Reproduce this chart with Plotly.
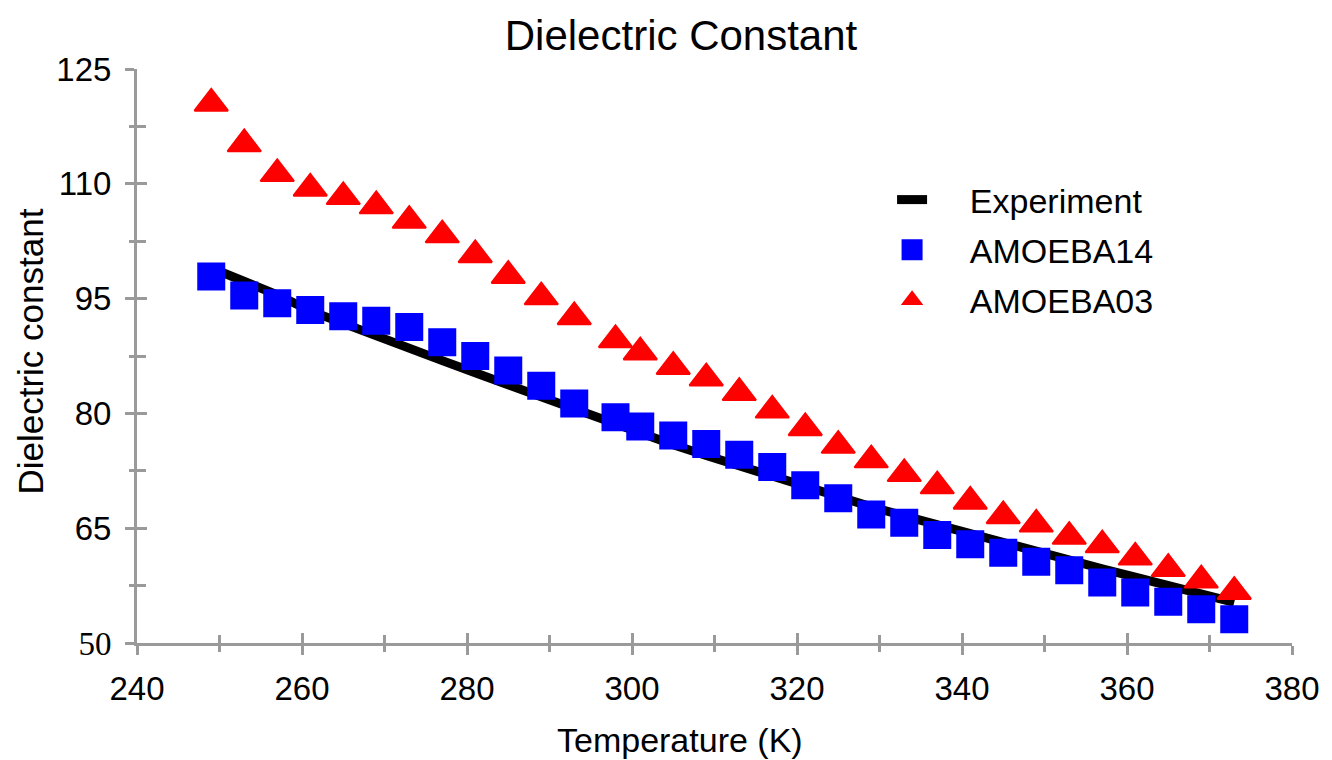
import plotly.graph_objects as go

temperature = [249, 253, 257, 261, 265, 269, 273, 277, 281, 285, 289, 293, 298, 301, 305, 309,
               313, 317, 321, 325, 329, 333, 337, 341, 345, 349, 353, 357, 361, 365, 369, 373]

experiment = [99.0, 97.3, 95.5, 93.4, 91.7, 90.2, 88.5, 86.9, 85.3, 83.7, 82.1, 80.5, 78.5, 77.3, 75.9, 74.5,
              73.1, 71.7, 70.4, 69.1, 67.8, 66.6, 65.4, 64.3, 63.2, 62.0, 60.8, 59.7, 58.6, 57.5, 56.4, 55.3]

amoeba14 = [97.9, 95.4, 94.4, 93.5, 92.7, 92.1, 91.3, 89.3, 87.5, 85.6, 83.6, 81.3, 79.5, 78.3, 77.1, 76.0,
            74.6, 73.0, 70.6, 68.9, 66.8, 65.7, 64.1, 62.9, 61.8, 60.6, 59.5, 57.9, 56.6, 55.4, 54.4, 53.1]

amoeba03 = [120.5, 115.2, 111.3, 109.4, 108.3, 107.1, 105.2, 103.3, 100.7, 98.0, 95.2, 92.6, 89.6, 88.0, 86.1, 84.6,
            82.7, 80.4, 78.1, 75.8, 73.9, 72.1, 70.5, 68.5, 66.6, 65.5, 63.9, 62.8, 61.2, 59.7, 58.2, 56.7]

x_ticks = [240, 260, 280, 300, 320, 340, 360, 380]
y_ticks = [50, 65, 80, 95, 110, 125]
y_ticktext = ["<span style='font-family:Liberation Serif'>50</span>", "65", "80", "95", "110", "125"]

FONT = "Liberation Sans, Arial, Helvetica, sans-serif"
AXIS_COLOR = "#9a9a9a"
BLUE = "#0000ff"
RED = "#ff0000"
NB = "\u00a0"

fig = go.Figure()

fig.add_trace(go.Scatter(
    x=temperature, y=experiment, mode="lines", name=NB * 4 + "Experiment",
    line=dict(color="black", width=9), legendgroup="a"))
fig.add_trace(go.Scatter(
    x=temperature, y=amoeba14, mode="markers", name=NB * 4 + "AMOEBA14",
    marker=dict(symbol="square", size=23, color=BLUE, line=dict(color=BLUE, width=5)),
    legendgroup="b"))
fig.add_trace(go.Scatter(
    x=temperature, y=amoeba03, mode="markers", name=NB * 4 + "AMOEBA03",
    marker=dict(symbol="triangle-up", size=29, color=RED, line=dict(color=RED, width=2)),
    legendgroup="c"))
# empty trace to attach overlay axes (inner half of crossing ticks)
fig.add_trace(go.Scatter(x=[], y=[], xaxis="x2", yaxis="y2", showlegend=False, hoverinfo="skip"))

common_tick = dict(tickcolor=AXIS_COLOR, tickwidth=2.5)

fig.update_layout(
    width=1332, height=760,
    paper_bgcolor="white", plot_bgcolor="white",
    margin=dict(l=137, r=34, t=69, b=117),
    font=dict(family=FONT, color="black"),
    title=dict(text="Dielectric Constant", font=dict(size=42, family=FONT, color="black"),
               x=681 / 1332, xref="container", xanchor="center",
               y=1 - 35 / 760, yref="container", yanchor="middle"),
    xaxis=dict(range=[240, 380], tickvals=x_ticks, ticks="outside", ticklen=9, ticklabelstandoff=5,
               showline=True, linecolor=AXIS_COLOR, linewidth=3,
               showgrid=False, zeroline=False,
               tickfont=dict(size=33, family=FONT, color="black"),
               minor=dict(dtick=10, ticks="outside", ticklen=6, tickcolor=AXIS_COLOR, tickwidth=2.5),
               **common_tick),
    yaxis=dict(range=[50, 125], tickvals=y_ticks, ticktext=y_ticktext, ticks="outside", ticklen=9,
               ticklabelstandoff=7,
               showline=True, linecolor=AXIS_COLOR, linewidth=3,
               showgrid=False, zeroline=False,
               tickfont=dict(size=33, family=FONT, color="black"),
               minor=dict(tick0=57.5, dtick=15, ticks="outside", ticklen=5, tickcolor=AXIS_COLOR, tickwidth=2.5),
               **common_tick),
    xaxis2=dict(range=[240, 380], overlaying="x", anchor="y", side="bottom",
                tickvals=x_ticks, ticks="inside", ticklen=10, showticklabels=False,
                showline=False, showgrid=False, zeroline=False,
                minor=dict(dtick=10, ticks="inside", ticklen=8, tickcolor=AXIS_COLOR, tickwidth=2.5),
                **common_tick),
    yaxis2=dict(range=[50, 125], overlaying="y", anchor="x", side="left",
                tickvals=y_ticks, ticks="inside", ticklen=10, showticklabels=False,
                showline=False, showgrid=False, zeroline=False,
                minor=dict(tick0=57.5, dtick=15, ticks="inside", ticklen=9, tickcolor=AXIS_COLOR, tickwidth=2.5),
                **common_tick),
    legend=dict(x=(896 - 137) / 1161, xanchor="left", y=(643 - 171) / 574, yanchor="top",
                font=dict(size=34, family=FONT, color="black"),
                bgcolor="rgba(0,0,0,0)", tracegroupgap=3),
    showlegend=True,
    annotations=[
        dict(text="Temperature (K)", xref="paper", yref="paper",
             x=(683 - 137) / 1161, y=(643 - 740) / 574, xanchor="center", yanchor="middle",
             showarrow=False, font=dict(size=34, family=FONT, color="black")),
        dict(text="Dielectric constant", xref="paper", yref="paper",
             x=(30 - 137) / 1161, y=(643 - 352) / 574, xanchor="center", yanchor="middle",
             textangle=-90, showarrow=False, font=dict(size=35, family=FONT, color="black")),
    ],
)

fig.write_html("out.html", config={"displayModeBar": False},
               post_script="document.body.style.margin='0px';document.body.style.overflow='hidden';")
